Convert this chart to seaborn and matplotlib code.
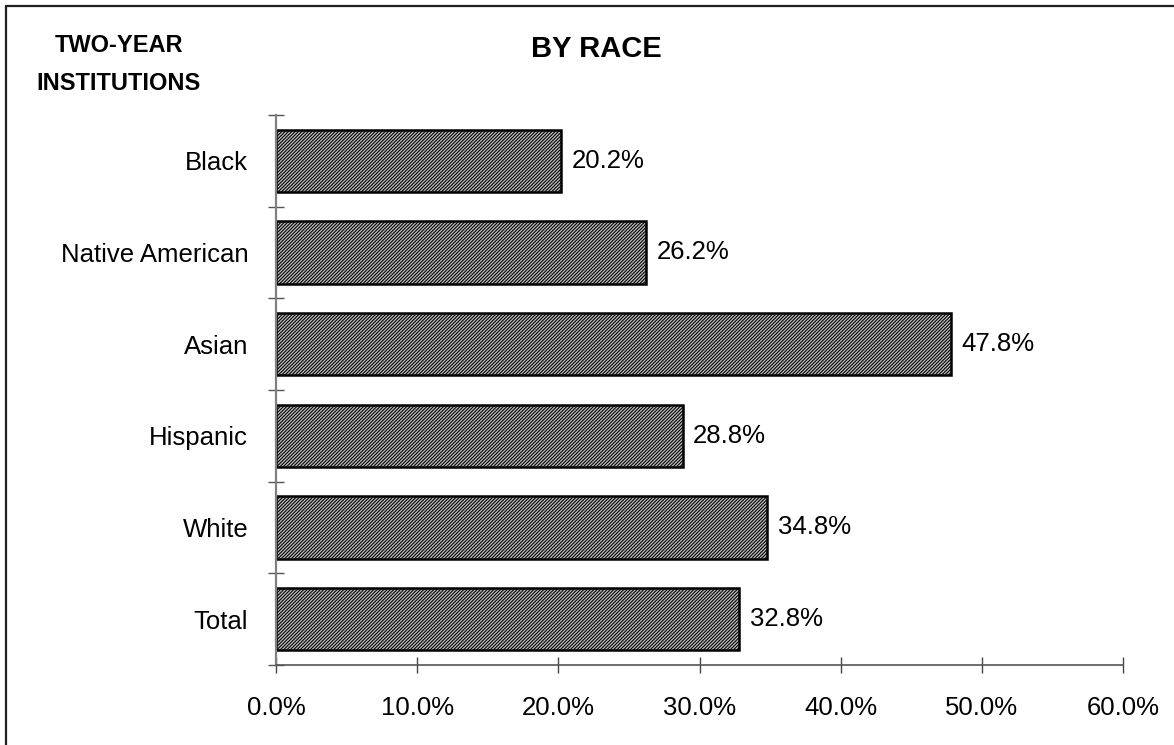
import numpy as np
import pandas as pd
import seaborn as sns
import matplotlib.pyplot as plt
from matplotlib.lines import Line2D

# data
races = ['Black', 'Native American', 'Asian', 'Hispanic', 'White', 'Total']
rates = [20.2, 26.2, 47.8, 28.8, 34.8, 32.8]
xticks = [0, 10, 20, 30, 40, 50, 60]

sns.set_theme(style='white')
plt.rcParams['font.family'] = ['Liberation Sans', 'DejaVu Sans']
plt.rcParams['text.color'] = 'black'
plt.rcParams['xtick.labelcolor'] = 'black'
plt.rcParams['ytick.labelcolor'] = 'black'
plt.rcParams['hatch.linewidth'] = 0.8
plt.rcParams['hatch.color'] = '#3a3a3a'

df = pd.DataFrame({'race': races, 'rate': rates})

fig = plt.figure(figsize=(11.74, 7.45), dpi=100)
ax = fig.add_axes([0.2351, 0.1074, 0.7215, 0.7383])

sns.barplot(data=df, x='rate', y='race', orient='h', order=races,
            color='#c0c0c0', width=0.68, saturation=1, ax=ax)

for p in ax.patches:
    p.set_hatch('//////////')
    p.set_edgecolor('black')
    p.set_linewidth(1.8)

for i, v in enumerate(rates):
    ax.text(v + 0.75, i, f'{v:.1f}%', va='center', ha='left', fontsize=18.5, color='black')

ax.set_xlim(0, 60)
ax.set_ylim(len(races) - 0.5, -0.5)
ax.set_xticks(xticks)
ax.set_xticklabels([f'{t:.1f}%' for t in xticks])
ax.set_yticks(np.arange(len(races) + 1) - 0.5, minor=True)
ax.set_yticks(np.arange(len(races)))
ax.set_yticklabels(races)
ax.set_xlabel('')
ax.set_ylabel('')

for s in ['top', 'right']:
    ax.spines[s].set_visible(False)
ax.spines['left'].set_color('#808080')
ax.spines['left'].set_linewidth(1.6)
ax.spines['bottom'].set_color('#555555')
ax.spines['bottom'].set_linewidth(1.2)

ax.tick_params(axis='x', which='major', direction='inout', length=12, width=1.0,
               color='#444444', labelsize=18.5, pad=16, bottom=True)
ax.tick_params(axis='y', which='major', length=0, labelsize=18.5, pad=20)
ax.tick_params(axis='y', which='minor', direction='inout', length=12, width=1.0,
               color='#555555', left=True)

fig.text(596 / 1174, 1 - 49 / 745, 'BY RACE', ha='center', va='center',
         fontsize=21, fontweight='bold', color='black')
fig.text(119 / 1174, 1 - 46 / 745, 'TWO-YEAR', ha='center', va='center',
         fontsize=17, fontweight='bold', color='black')
fig.text(119 / 1174, 1 - 84 / 745, 'INSTITUTIONS', ha='center', va='center',
         fontsize=17, fontweight='bold', color='black')

# frame around the chart (top and left edges visible)
x0 = 6 / 1174
y0 = 1 - 6 / 745
fig.add_artist(Line2D([x0, 1], [y0, y0], transform=fig.transFigure, color='#222222', lw=1.6))
fig.add_artist(Line2D([x0, x0], [0, y0], transform=fig.transFigure, color='#222222', lw=1.6))

fig.savefig('out.png', dpi=100, facecolor='white')
